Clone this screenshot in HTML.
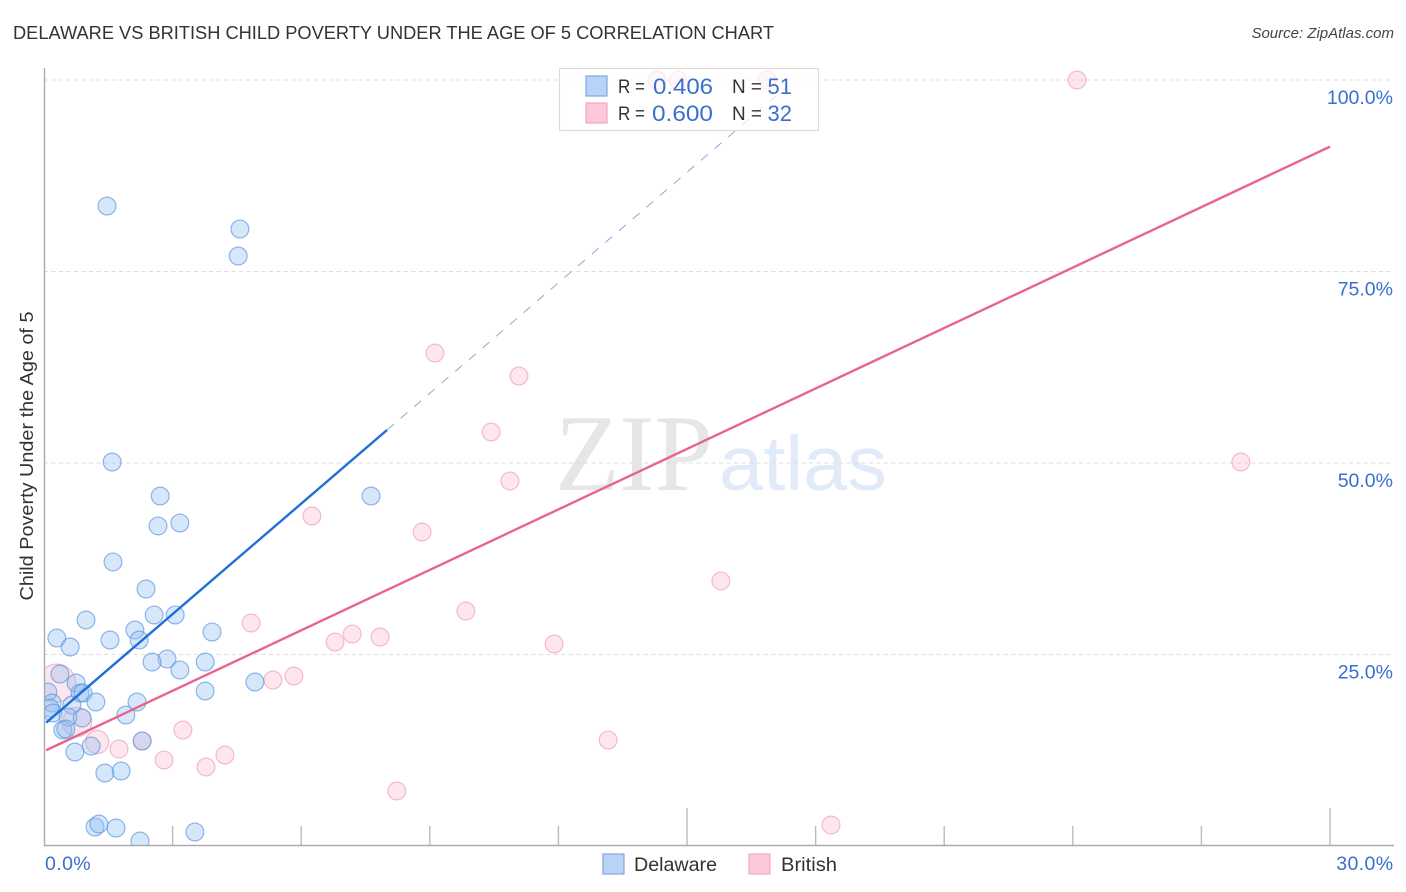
<!DOCTYPE html>
<html lang="en">
<head>
<meta charset="utf-8">
<title>Delaware vs British Child Poverty Under the Age of 5 Correlation Chart</title>
<style>
html,body{margin:0;padding:0;background:#fff;width:1406px;height:892px;overflow:hidden}
svg{display:block;font-family:"Liberation Sans",sans-serif}
</style>
</head>
<body>
<svg id="chart" width="1406" height="892" viewBox="0 0 1406 892" xmlns="http://www.w3.org/2000/svg">
  <defs>
    <clipPath id="plot-clip"><rect x="45" y="60" width="1349" height="785"></rect></clipPath>
  </defs>
  <text x="13" y="39" font-size="18" fill="#333" textLength="761" lengthAdjust="spacingAndGlyphs">DELAWARE VS BRITISH CHILD POVERTY UNDER THE AGE OF 5 CORRELATION CHART</text>
  <text x="1394" y="38" font-size="15" font-style="italic" fill="#444" text-anchor="end">Source: ZipAtlas.com</text>
  <g>
    <text x="555" y="490" font-size="109" fill="#e6e6e6" style="font-family:'Liberation Serif',serif" textLength="158" lengthAdjust="spacingAndGlyphs">ZIP</text>
    <text x="719" y="490" font-size="77" fill="#e0eaf9" textLength="168" lengthAdjust="spacingAndGlyphs">atlas</text>
  </g>
  <g id="grid"></g>
  <g id="points-british" clip-path="url(#plot-clip)"></g>
  <g id="points-delaware" clip-path="url(#plot-clip)"></g>
  <g id="trends"></g>
  <g id="axes"></g>
  <text transform="translate(33,456) rotate(-90)" font-size="18.5" fill="#333" text-anchor="middle" textLength="289" lengthAdjust="spacingAndGlyphs">Child Poverty Under the Age of 5</text>

  <g>
    <rect x="559.5" y="68.5" width="259" height="62" fill="#fff" fill-opacity="0.7" stroke="#dcdcdc" stroke-width="1.2"></rect>
    <rect x="586" y="76" width="21" height="20" fill="#b8d3f6" stroke="#7ea9e2" stroke-width="1.2"></rect>
    <rect x="586" y="103" width="21" height="20" fill="#fcc8da" stroke="#f3a7c0" stroke-width="1.2"></rect>
    <text x="618" y="93" font-size="19" fill="#333" textLength="27" lengthAdjust="spacingAndGlyphs">R =</text>
    <text x="653" y="94" font-size="22" fill="#3a6fd0" textLength="60" lengthAdjust="spacingAndGlyphs">0.406</text>
    <text x="732" y="93" font-size="19" fill="#333" textLength="30" lengthAdjust="spacingAndGlyphs">N =</text>
    <text x="792" y="94" font-size="22" fill="#3a6fd0" text-anchor="end">51</text>
    <text x="618" y="120" font-size="19" fill="#333" textLength="27" lengthAdjust="spacingAndGlyphs">R =</text>
    <text x="652" y="121" font-size="22" fill="#3a6fd0" textLength="61" lengthAdjust="spacingAndGlyphs">0.600</text>
    <text x="732" y="120" font-size="19" fill="#333" textLength="30" lengthAdjust="spacingAndGlyphs">N =</text>
    <text x="792" y="121" font-size="22" fill="#3a6fd0" text-anchor="end">32</text>
  </g>

  <g>
    <rect x="603" y="854" width="21" height="20" fill="#b8d3f6" stroke="#7ea9e2" stroke-width="1.2"></rect>
    <text x="634" y="871" font-size="19.5" fill="#333" textLength="83" lengthAdjust="spacingAndGlyphs">Delaware</text>
    <rect x="749" y="854" width="21" height="20" fill="#fcc8da" stroke="#f3a7c0" stroke-width="1.2"></rect>
    <text x="781" y="871" font-size="19.5" fill="#333" textLength="56" lengthAdjust="spacingAndGlyphs">British</text>
  </g>
</svg>
<script>
const delawareX = [1.47,4.57,4.53,1.59,2.71,7.63,2.66,3.17,1.61,2.38,0.98,2.57,3.06,2.12,3.92,0.30,1.54,2.22,0.61,2.87,2.52,3.76,3.17,0.37,0.75,4.92,0.84,0.91,3.76,0.09,0.19,0.14,1.21,2.17,0.65,0.21,1.91,0.56,0.89,0.44,0.51,1.10,0.72,2.29,1.42,1.80,1.19,1.28,1.68,2.24,3.52];
const delawareY = [83.55,80.55,77.02,50.13,45.69,45.69,41.78,42.17,37.08,33.55,29.50,30.16,30.16,28.20,27.94,27.15,26.89,26.89,25.98,24.41,24.02,24.02,22.98,22.45,21.28,21.41,19.97,19.97,20.23,20.10,18.67,18.02,18.80,18.80,18.41,17.36,17.10,16.84,16.71,15.14,15.27,13.05,12.27,13.71,9.53,9.79,2.48,2.87,2.35,0.65,1.83];
const britishX = [24.10,14.30,14.79,16.87,9.12,11.08,10.43,27.92,10.87,6.25,8.82,15.79,9.84,4.83,7.19,7.84,6.79,11.90,5.83,5.34,3.24,13.16,1.75,1.24,2.29,2.80,3.78,4.22,8.23,18.36,0.30,0.77];
const britishY = [100,100,100,100,64.36,61.36,54.05,50.13,47.65,43.08,40.99,34.60,30.68,29.11,27.68,27.28,26.63,26.37,22.19,21.67,15.14,13.84,12.66,13.58,13.71,11.23,10.31,11.88,7.18,2.74,21.28,16.19];
const britishWeight = [1,1,1,1,1,1,1,1,1,1,1,1,1,1,1,1,1,1,1,1,1,1,1,1.7,1,1,1,1,1,1,4.5,2.7];
const delawareTrendX = [0.05,8.0];
const delawareTrendY = [16.1,54.3];
const delawareProjectionX = [8.0,17.3];
const delawareProjectionY = [54.3,99];
const britishTrendX = [0.05,30];
const britishTrendY = [12.5,91.3];
const yTickValues = [25,50,75,100];
const yTickLabels = ["25.0%","50.0%","75.0%","100.0%"];
const xTickValues = [3,6,9,12,15,18,21,24,27,30];
const xEndValues = [0,30];
const xEndLabels = ["0.0%","30.0%"];

const NS = "http://www.w3.org/2000/svg";
const sx = v => 44 + v * 42.867;
const sy = v => 846 - v * 7.66;
const BASE_R = 8.9;

function make(tag, parentId, attrs) {
  const el = document.createElementNS(NS, tag);
  Object.keys(attrs).forEach(k => el.setAttribute(k, attrs[k]));
  document.getElementById(parentId).appendChild(el);
  return el;
}

yTickValues.forEach((v, i) => {
  const line = make("line", "grid", {x1: 44, x2: 1394, y1: sy(v), y2: sy(v), stroke: "#dedede", "stroke-width": 1, "stroke-dasharray": "4 3.5"});
  
  
  const label = make("text", "axes", {x: 1393, y: sy(v) + 24, "font-size": 19.5, fill: "#3a6fd0", "text-anchor": "end"});
  label.textContent = yTickLabels[i];
  
  
});

britishX.forEach((x, i) => {
  const c = make("circle", "points-british", {cx: sx(x), cy: sy(britishY[i]), r: BASE_R * Math.sqrt(britishWeight[i]), fill: "#f9b9cf", "fill-opacity": 0.36, stroke: "#f09ab8", "stroke-opacity": 0.65, "stroke-width": 1.2});
  
  
});

delawareX.forEach((x, i) => {
  const c = make("circle", "points-delaware", {cx: sx(x), cy: sy(delawareY[i]), r: BASE_R, fill: "#8fbcf0", "fill-opacity": 0.36, stroke: "#5a96e0", "stroke-opacity": 0.68, "stroke-width": 1.2});
  
  
});

const projection = make("line", "trends", {x1: sx(delawareProjectionX[0]), y1: sy(delawareProjectionY[0]), x2: sx(delawareProjectionX[1]), y2: sy(delawareProjectionY[1]), stroke: "#8fa9ce", "stroke-width": 1, "stroke-dasharray": "9 9"});



const blueLine = make("line", "trends", {x1: sx(delawareTrendX[0]), y1: sy(delawareTrendY[0]), x2: sx(delawareTrendX[1]), y2: sy(delawareTrendY[1]), stroke: "#1f6fd6", "stroke-width": 2.4});



const pinkLine = make("line", "trends", {x1: sx(britishTrendX[0]), y1: sy(britishTrendY[0]), x2: sx(britishTrendX[1]), y2: sy(britishTrendY[1]), stroke: "#e8648f", "stroke-width": 2.4});



const yAxis = make("line", "axes", {x1: 44.5, x2: 44.5, y1: 68, y2: 846, stroke: "#aaa", "stroke-width": 1.4});



const xAxis = make("line", "axes", {x1: 44, x2: 1394, y1: 845.5, y2: 845.5, stroke: "#aaa", "stroke-width": 1.4});



xTickValues.forEach(v => {
  const tall = v % 15 === 0;
  const t = make("line", "axes", {x1: sx(v), x2: sx(v), y1: tall ? 808 : 826, y2: 845, stroke: "#bbb", "stroke-width": 1.4});
  
  
});

xEndValues.forEach((v, i) => {
  const label = make("text", "axes", {x: i === 0 ? sx(v) + 1 : sx(v) + 63.5, y: 870, "font-size": 19.5, fill: "#3a6fd0", "text-anchor": i === 0 ? "start" : "end", "letter-spacing": 0.4});
  label.textContent = xEndLabels[i];
  
  
});
</script>
</body>
</html>
